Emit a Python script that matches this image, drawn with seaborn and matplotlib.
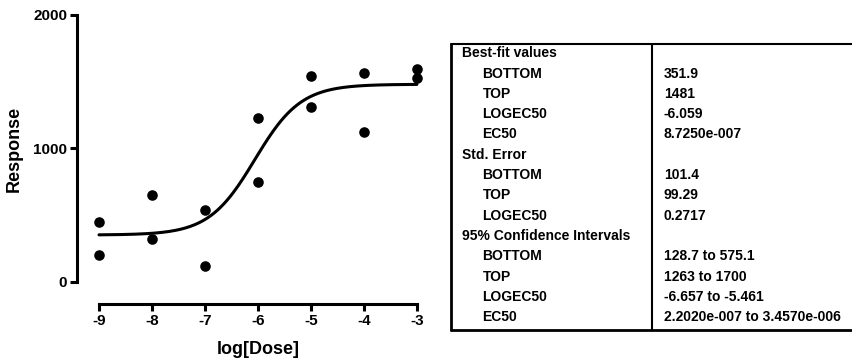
import numpy as np
import pandas as pd
import matplotlib
matplotlib.use("Agg")
import matplotlib.pyplot as plt
import seaborn as sns

#----------------------------------
# data
#----------------------------------
log_dose = [-9, -9, -8, -8, -7, -7, -6, -6, -5, -5, -4, -4, -3, -3]
response = [452, 202, 654, 322, 539, 122, 1231, 749, 1541, 1313, 1566, 1121, 1596, 1528]

# best-fit sigmoid parameters (from the results table)
bottom = 351.9
top = 1481
logec50 = -6.059

table_rows = ["Best-fit values", "BOTTOM", "TOP", "LOGEC50", "EC50",
              "Std. Error", "BOTTOM", "TOP", "LOGEC50",
              "95% Confidence Intervals", "BOTTOM", "TOP", "LOGEC50", "EC50"]
table_indent = [0, 1, 1, 1, 1, 0, 1, 1, 1, 0, 1, 1, 1, 1]
table_values = ["", "351.9", "1481", "-6.059", "8.7250e-007",
                "", "101.4", "99.29", "0.2717",
                "", "128.7 to 575.1", "1263 to 1700", "-6.657 to -5.461",
                "2.2020e-007 to 3.4570e-006"]

sns.set_style("ticks")
plt.rcParams['font.family'] = ['Liberation Sans', 'DejaVu Sans']
plt.rcParams['font.weight'] = 'bold'
plt.rcParams['text.color'] = 'black'
plt.rcParams['axes.labelcolor'] = 'black'
plt.rcParams['axes.unicode_minus'] = False

W, H = 853, 363
fig = plt.figure(figsize=(W / 100, H / 100), dpi=100)

#----------------------------------
# dose-response plot
#----------------------------------
ax = fig.add_axes([77 / W, (H - 304) / H, (428 - 77) / W, (304 - 15) / H])

xs = np.linspace(-9, -3, 200)
fit = pd.DataFrame({"x": xs, "y": bottom + (top - bottom) / (1 + 10 ** (logec50 - xs))})
sns.lineplot(data=fit, x="x", y="y", ax=ax, color="black", linewidth=2.2)

pts = pd.DataFrame({"x": log_dose, "y": response})
sns.scatterplot(data=pts, x="x", y="y", ax=ax, color="black", s=58,
                edgecolor="black", linewidth=0, zorder=3)

ax.set_xlim(-9.415, -2.79)
ax.set_ylim(-165, 2000)
ax.set_xticks([-9, -8, -7, -6, -5, -4, -3])
ax.set_yticks([0, 1000, 2000])
ax.spines['top'].set_visible(False)
ax.spines['right'].set_visible(False)
ax.spines['left'].set_bounds(0, 2000)
ax.spines['bottom'].set_bounds(-9, -3)
for s in ['left', 'bottom']:
    ax.spines[s].set_linewidth(2.2)
    ax.spines[s].set_color("black")
ax.tick_params(axis='both', width=2.2, length=5, labelsize=11, colors="black", pad=2)
for lab in ax.get_xticklabels() + ax.get_yticklabels():
    lab.set_fontweight('bold')

ax.set_xlabel("log[Dose]", fontsize=13, fontweight='bold')
ax.set_ylabel("Response", fontsize=13, fontweight='bold')
ax.xaxis.label.set_va('center')
ax.yaxis.label.set_va('center')
ax.xaxis.set_label_coords((258 - 77) / (428 - 77), -(350 - 304) / (304 - 15))
ax.yaxis.set_label_coords(-(77 - 14) / (428 - 77), (304 - 149) / (304 - 15))

#----------------------------------
# results table
#----------------------------------
tx = fig.add_axes([0, 0, 1, 1])
tx.set_xlim(0, W)
tx.set_ylim(H, 0)
tx.axis("off")

tx.plot([451, 451], [44, 330], color="black", lw=2)
tx.plot([451, W], [44, 44], color="black", lw=1.5)
tx.plot([451, W], [330, 330], color="black", lw=2)
tx.plot([652, 652], [44, 330], color="black", lw=1.5)

for i, (name, ind, val) in enumerate(zip(table_rows, table_indent, table_values)):
    yy = 53.3 + i * 20.3
    tx.text(462.5 + 20 * ind, yy, name, fontsize=10, fontweight='bold',
            va='center', ha='left')
    if val:
        tx.text(664, yy, val, fontsize=10, fontweight='bold', va='center', ha='left')

fig.savefig("out.png", dpi=100)
